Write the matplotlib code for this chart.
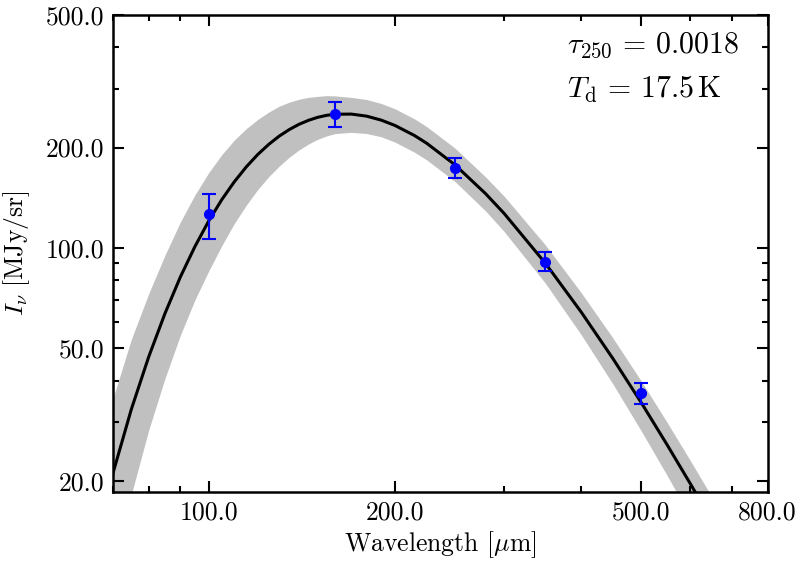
import matplotlib
matplotlib.use("Agg")
import matplotlib.pyplot as plt
from matplotlib.ticker import FixedLocator, FormatStrFormatter, LogLocator, NullFormatter

plt.rcParams["font.family"] = "serif"
plt.rcParams["font.serif"] = ["cmr10"]
plt.rcParams["mathtext.fontset"] = "cm"
plt.rcParams["axes.formatter.use_mathtext"] = True

# measured points
wav_obs = [100, 160, 250, 350, 500]
flux_obs = [126.0, 252.0, 174.0, 91.0, 36.6]
err_obs = [19.5, 22.0, 12.0, 6.0, 2.6]

# fitted curve and its band
wav_fit = [70, 75, 80, 85, 90, 95, 100, 105, 110, 115, 120, 125, 130, 135,
           140, 145, 150, 155, 160, 170, 180, 190, 200, 215, 225, 250, 280,
           300, 350, 400, 450, 500, 550, 600, 650, 700]
flux_fit = [21.0, 32.8, 47.1, 63.6, 81.8, 100.9, 120.4, 139.6, 157.9, 175.0,
            190.6, 204.4, 216.5, 226.6, 235.0, 241.5, 246.5, 249.9, 251.8,
            252.1, 248.5, 241.8, 233.0, 217.4, 206.1, 177.5, 145.6, 127.0,
            89.9, 64.1, 46.5, 34.3, 25.7, 19.6, 15.2, 11.9]
band_hi = [35.2, 53.2, 72.9, 95.1, 119.6, 144.2, 168.1, 190.5, 210.6, 228.0,
           242.8, 255.5, 266.3, 273.7, 279.4, 283.0, 284.9, 286.4, 285.8,
           282.9, 278.8, 271.3, 261.4, 243.9, 231.2, 199.2, 163.4, 143.1,
           102.0, 73.3, 53.6, 39.8, 30.0, 23.0, 17.9, 14.1]
band_lo = [11.1, 18.2, 28.4, 40.6, 54.7, 69.8, 85.2, 101.6, 118.4, 134.3,
           149.6, 163.5, 176.0, 187.2, 196.9, 205.0, 211.8, 216.7, 220.3,
           222.2, 220.4, 215.5, 207.7, 193.7, 183.7, 158.2, 129.2, 112.1,
           78.3, 54.8, 39.0, 28.2, 20.8, 15.6, 12.1, 9.4]

x_ticks = [100, 200, 500, 800]
y_ticks = [20, 50, 100, 200, 500]

fig = plt.figure(figsize=(8, 5.65), dpi=100)
ax = fig.add_axes([0.141, 0.129, 0.8186, 0.8445])

ax.fill_between(wav_fit, band_lo, band_hi, color="silver", lw=0, zorder=1)
ax.plot(wav_fit, flux_fit, color="k", lw=2.2, zorder=2)
ax.errorbar(wav_obs, flux_obs, yerr=err_obs, fmt="o", color="b", ms=7,
            elinewidth=1.5, capsize=5, capthick=1.5, zorder=3)

ax.set_xscale("log")
ax.set_yscale("log")
ax.set_xlim(70, 800)
ax.set_ylim(18.5, 500)

ax.xaxis.set_major_locator(FixedLocator(x_ticks))
ax.yaxis.set_major_locator(FixedLocator(y_ticks))
ax.xaxis.set_major_formatter(FormatStrFormatter("%.1f"))
ax.yaxis.set_major_formatter(FormatStrFormatter("%.1f"))
ax.xaxis.set_minor_locator(LogLocator(base=10, subs=range(2, 10)))
ax.yaxis.set_minor_locator(LogLocator(base=10, subs=range(2, 10)))
ax.xaxis.set_minor_formatter(NullFormatter())
ax.yaxis.set_minor_formatter(NullFormatter())

ax.tick_params(which="both", direction="in", top=True, right=True,
               labelsize=18.5, width=1.5)
ax.tick_params(which="major", length=8, pad=6)
ax.tick_params(which="minor", length=4)
for s in ax.spines.values():
    s.set_linewidth(1.8)

ax.set_xlabel(r"Wavelength [$\mu$m]", fontsize=18.5, labelpad=4)
ax.set_ylabel(r"$I_{\nu}\ [\mathrm{MJy/sr}]$", fontsize=18.5, labelpad=10)

ax.text(0.694, 0.937, r"$\tau_{250}\,=\,0.0018$", transform=ax.transAxes,
        fontsize=21.5, ha="left", va="center")
ax.text(0.694, 0.843, r"$T_{\rm d}\,=\,17.5\,{\rm K}$", transform=ax.transAxes,
        fontsize=21.5, ha="left", va="center")

fig.savefig("out.png", dpi=100)
